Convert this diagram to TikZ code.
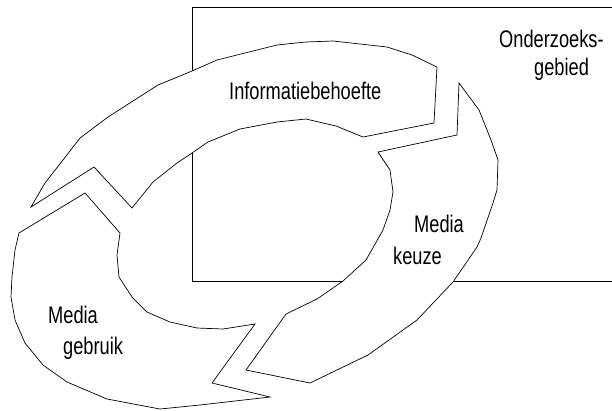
\documentclass[tikz,border=0pt]{standalone}
\usepackage{fontspec}
\setmainfont[FakeStretch=0.76]{Liberation Sans}
\usepackage{tikz}

\begin{document}
\begin{tikzpicture}[x=1pt, y=-1pt,
  vak/.style={draw, line width=0.7pt, fill=white, line join=miter},
  tekst/.style={anchor=base west, inner sep=0pt, font=\fontsize{24}{30}\selectfont}]
\useasboundingbox (0,0) rectangle (612,410);

% onderzoeksgebied, rechterkant open
\draw[line width=0.7pt] (612,7) -- (192,7) -- (192,281) -- (612,281);

% informatiebehoefte
\draw[vak] (31,207) -- (45,183) -- (63,160) -- (80,138) -- (108,117) -- (158,85) -- (192,71) -- (217,60) -- (277,45) -- (306,42) -- (333,41) -- (387,47) -- (412,55) -- (437,67)
  -- (434,123) -- (363,137)
  -- (336,126) -- (306,119) -- (277,122) -- (240,129) -- (208,142) -- (192,153) -- (177,163) -- (153,182) -- (132,208)
  -- (94,167) -- cycle;

% media keuze
\draw[vak] (459,83) -- (479,110) -- (491,140) -- (498,160) -- (497,190) -- (493,203) -- (481,238) -- (477,247) -- (453,282) -- (417,320) -- (368,355) -- (310,383)
  -- (246,370) -- (286,314)
  -- (317,299) -- (343,281) -- (366,260) -- (383,230) -- (390,210) -- (393,192) -- (390,170) -- (378,152)
  -- (457,135) -- cycle;

% media gebruik
\draw[vak] (85,193) -- (120,233) -- (117,255) -- (119,277) -- (132,297) -- (147,312) -- (170,322) -- (197,328) -- (223,329) -- (255,324)
  -- (212,383) -- (270,397)
  -- (200,405) -- (160,409) -- (107,399) -- (67,382) -- (43,365) -- (25,343) -- (15,320) -- (11,297) -- (12,277) -- (15,250) -- (19,233) -- cycle;

\node[tekst] (info) at (229,99) {Informatiebehoefte};
\node[tekst] (gebied1) at (499,47) {Onderzoeks-};
\node[tekst] (gebied2) at (534,75) {gebied};
\node[tekst] (keuze1) at (414,232) {Media};
\node[tekst] (keuze2) at (393,264) {keuze};
\node[tekst] (gebruik1) at (48,323) {Media};
\node[tekst] (gebruik2) at (63,354) {gebruik};
\end{tikzpicture}
\end{document}
